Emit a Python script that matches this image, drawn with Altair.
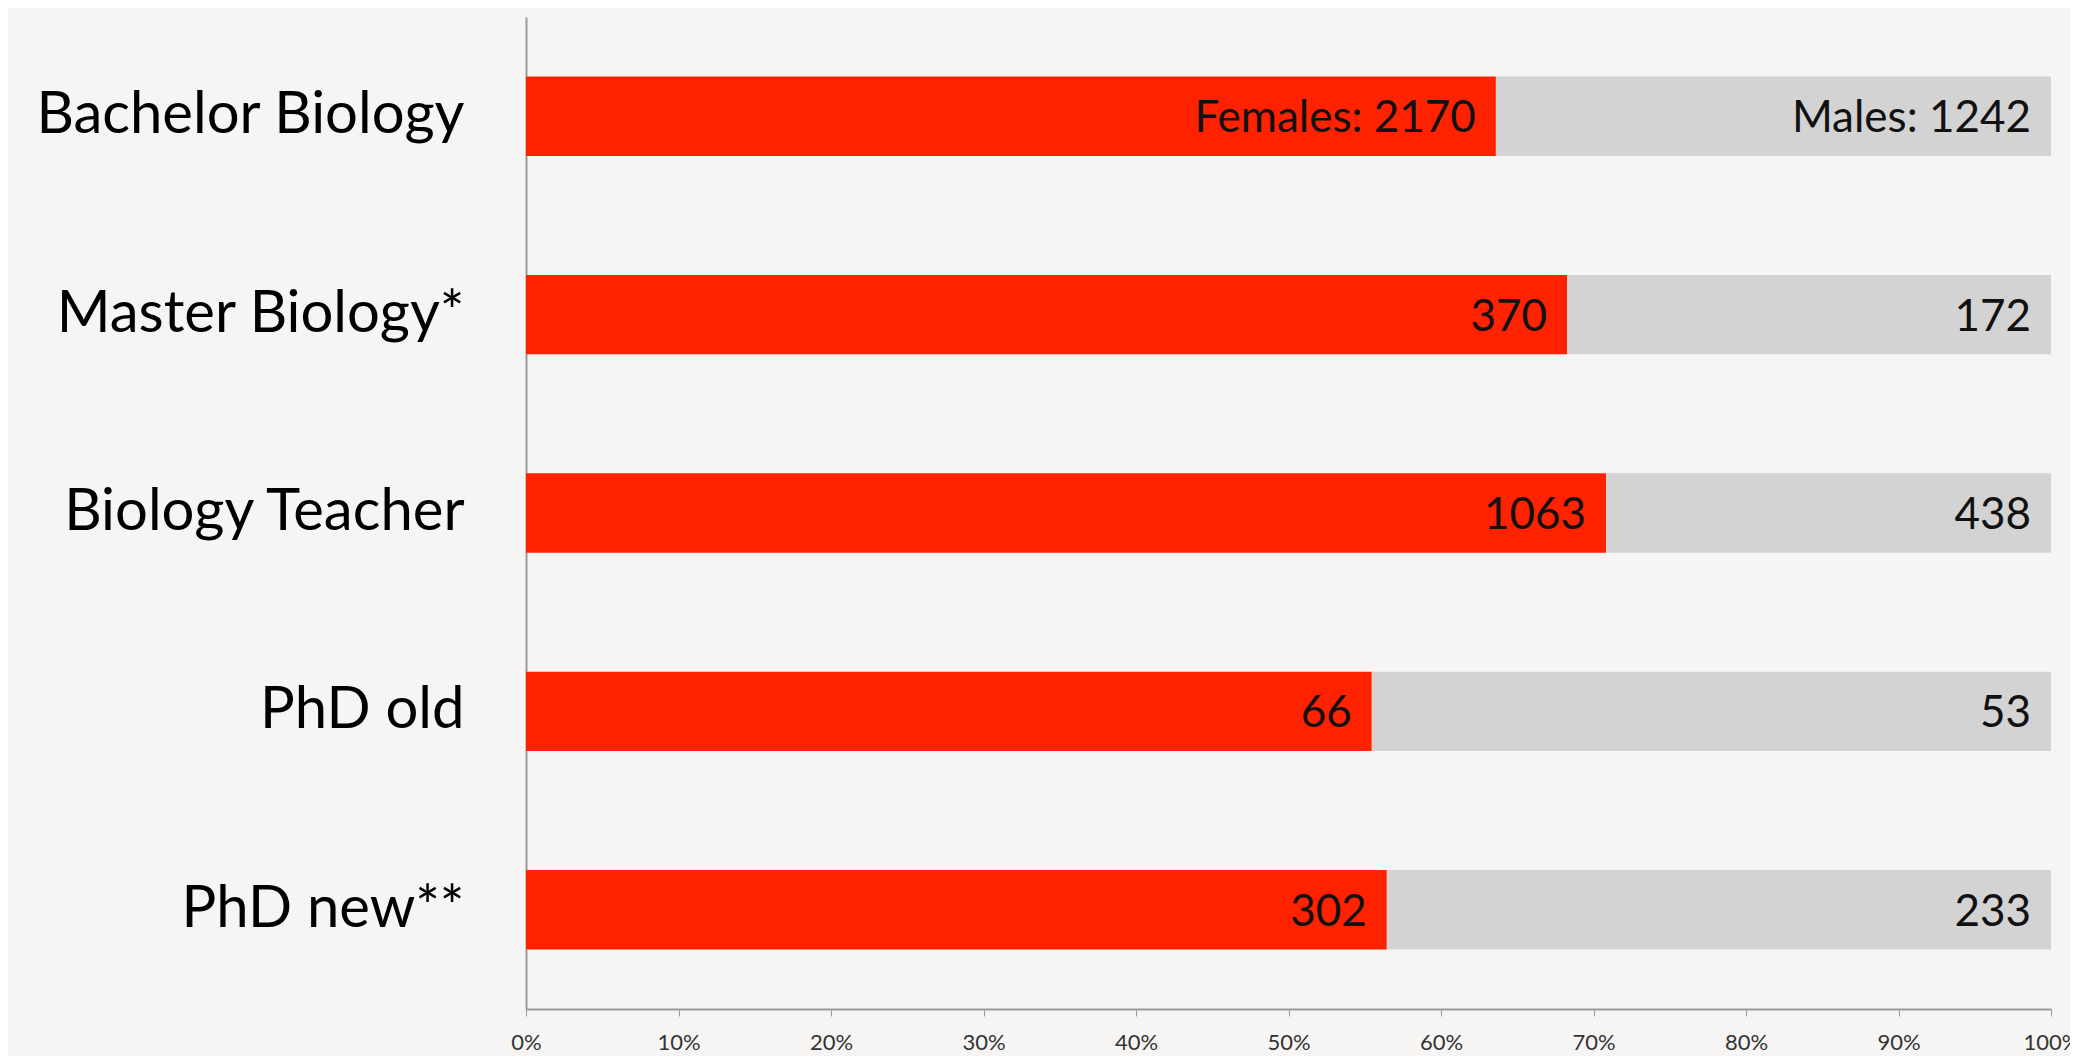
import altair as alt
import pandas as pd

categories = ["Bachelor Biology", "Master Biology*", "Biology Teacher", "PhD old", "PhD new**"]
females = [2170, 370, 1063, 66, 302]
males = [1242, 172, 438, 53, 233]
female_labels = ["Females: 2170", "370", "1063", "66", "302"]
male_labels = ["Males: 1242", "172", "438", "53", "233"]

rows = []
for i, c in enumerate(categories):
    rows.append({"category": c, "sex": "Females", "count": females[i], "label": female_labels[i], "ord": 0})
    rows.append({"category": c, "sex": "Males", "count": males[i], "label": male_labels[i], "ord": 1})
df = pd.DataFrame(rows)

FONT = "Lato"
BG = "#F6F5F3"

y = alt.Y("category:N", sort=categories, title=None,
          scale=alt.Scale(paddingInner=0.6, paddingOuter=0.3),
          axis=alt.Axis(labelFontSize=58, labelFont=FONT, labelColor="#000000",
                        labelPadding=62, ticks=False, domainColor="#9a9a9a",
                        domainWidth=2, labelLimit=700))

bars = alt.Chart(df).mark_bar().encode(
    x=alt.X("count:Q", stack="normalize", title=None,
            scale=alt.Scale(domain=[0, 1], nice=False),
            axis=alt.Axis(format=".0%", values=[i / 10 for i in range(11)],
                          labelFontSize=22, labelFont=FONT, labelColor="#333333",
                          labelPadding=16, tickSize=7, tickColor="#9a9a9a",
                          domainColor="#9a9a9a", domainWidth=2, grid=False,
                          labelFlush=False)),
    y=y,
    color=alt.Color("sex:N", scale=alt.Scale(domain=["Females", "Males"],
                                             range=["#FF2200", "#D3D3D3"]), legend=None),
    order=alt.Order("ord:Q"),
)

text = alt.Chart(df).transform_joinaggregate(
    total="sum(count)", groupby=["category"]
).transform_calculate(
    pos="datum.sex == 'Females' ? datum.count / datum.total : 1"
).mark_text(align="right", baseline="middle", dx=-20, dy=3,
            fontSize=44, font=FONT, color="#111111").encode(
    x=alt.X("pos:Q"),
    y=alt.Y("category:N", sort=categories),
    text="label:N",
)

chart = alt.layer(bars, text).properties(
    width=1525, height=992,
    background=BG,
    padding={"left": 518, "top": 9, "right": 19, "bottom": 47},
    autosize=alt.AutoSizeParams(type="none"),
).configure_view(stroke=None)

chart.save("out.html", embed_options={"renderer": "svg", "actions": False})
